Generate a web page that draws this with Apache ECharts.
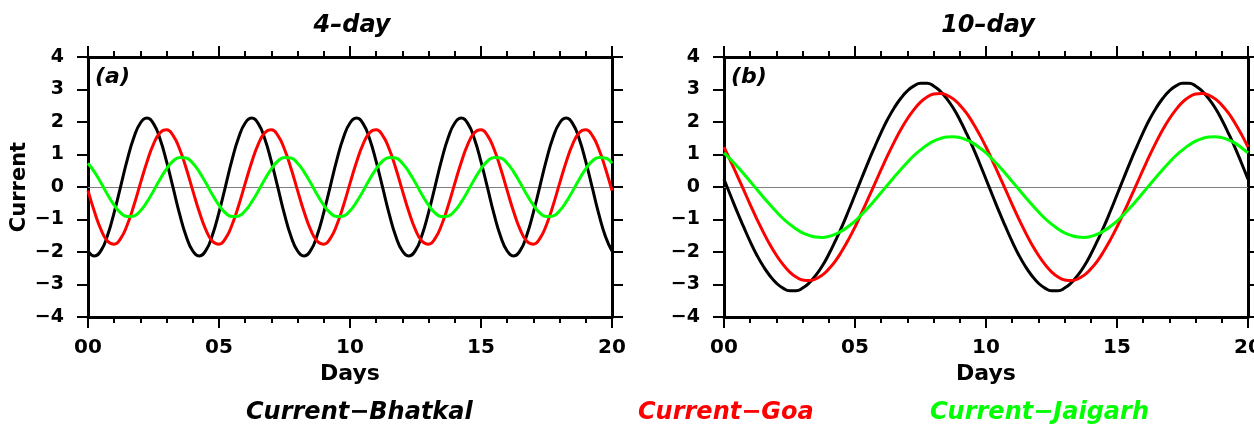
<!DOCTYPE html>
<html>
<head>
<meta charset="utf-8">
<script src="https://cdn.jsdelivr.net/npm/echarts/dist/echarts.min.js"></script>
<style>
html,body{margin:0;padding:0;background:#fff;}
#chart{width:1254px;height:434px;}
</style>
</head>
<body>
<div id="chart"></div>
<script>
// ---- data ----
const panelTitles = ['4–day', '10–day'];
const panelLabels = ['(a)', '(b)'];
const seriesNames = ['Current−Bhatkal', 'Current−Goa', 'Current−Jaigarh'];
const seriesColors = ['#000000', '#ff0000', '#00ff00'];
const xTickLabels = ['00', '05', '10', '15', '20'];
const yTicks = [-4, -3, -2, -1, 0, 1, 2, 3, 4];

// sample days (both panels)
const days = [0,0.25,0.5,0.75,1,1.25,1.5,1.75,2,2.25,2.5,2.75,3,3.25,3.5,3.75,4,4.25,4.5,4.75,5,5.25,5.5,5.75,6,6.25,6.5,6.75,7,7.25,7.5,7.75,8,8.25,8.5,8.75,9,9.25,9.5,9.75,10,10.25,10.5,10.75,11,11.25,11.5,11.75,12,12.25,12.5,12.75,13,13.25,13.5,13.75,14,14.25,14.5,14.75,15,15.25,15.5,15.75,16,16.25,16.5,16.75,17,17.25,17.5,17.75,18,18.25,18.5,18.75,19,19.25,19.5,19.75,20];

// panel (a): 4-day
const bhatkalA = [-1.97,-2.12,-1.95,-1.48,-0.78,0.03,0.84,1.52,1.97,2.12,1.95,1.48,0.78,-0.03,-0.84,-1.52,
  -1.97,-2.12,-1.95,-1.48,-0.78,0.03,0.84,1.52,1.97,2.12,1.95,1.48,0.78,-0.03,-0.84,-1.52,
  -1.97,-2.12,-1.95,-1.48,-0.78,0.03,0.84,1.52,1.97,2.12,1.95,1.48,0.78,-0.03,-0.84,-1.52,
  -1.97,-2.12,-1.95,-1.48,-0.78,0.03,0.84,1.52,1.97,2.12,1.95,1.48,0.78,-0.03,-0.84,-1.52,
  -1.97,-2.12,-1.95,-1.48,-0.78,0.03,0.84,1.52,1.97,2.12,1.95,1.48,0.78,-0.03,-0.84,-1.52,
  -1.97];
const goaA = [-0.11,-0.77,-1.32,-1.67,-1.76,-1.58,-1.16,-0.57,0.11,0.77,1.32,1.67,1.76,1.58,1.16,0.57,
  -0.11,-0.77,-1.32,-1.67,-1.76,-1.58,-1.16,-0.57,0.11,0.77,1.32,1.67,1.76,1.58,1.16,0.57,
  -0.11,-0.77,-1.32,-1.67,-1.76,-1.58,-1.16,-0.57,0.11,0.77,1.32,1.67,1.76,1.58,1.16,0.57,
  -0.11,-0.77,-1.32,-1.67,-1.76,-1.58,-1.16,-0.57,0.11,0.77,1.32,1.67,1.76,1.58,1.16,0.57,
  -0.11,-0.77,-1.32,-1.67,-1.76,-1.58,-1.16,-0.57,0.11,0.77,1.32,1.67,1.76,1.58,1.16,0.57,
  -0.11];
const jaigarhA = [0.73,0.46,0.12,-0.24,-0.56,-0.80,-0.91,-0.89,-0.73,-0.46,-0.12,0.24,0.56,0.80,0.91,0.89,
  0.73,0.46,0.12,-0.24,-0.56,-0.80,-0.91,-0.89,-0.73,-0.46,-0.12,0.24,0.56,0.80,0.91,0.89,
  0.73,0.46,0.12,-0.24,-0.56,-0.80,-0.91,-0.89,-0.73,-0.46,-0.12,0.24,0.56,0.80,0.91,0.89,
  0.73,0.46,0.12,-0.24,-0.56,-0.80,-0.91,-0.89,-0.73,-0.46,-0.12,0.24,0.56,0.80,0.91,0.89,
  0.73,0.46,0.12,-0.24,-0.56,-0.80,-0.91,-0.89,-0.73,-0.46,-0.12,0.24,0.56,0.80,0.91,0.89,
  0.73];

// panel (b): 10-day
const bhatkalB = [0.24,-0.26,-0.76,-1.23,-1.68,-2.09,-2.44,-2.73,-2.96,-3.11,-3.19,-3.19,-3.11,-2.95,-2.72,-2.43,-2.07,-1.66,-1.22,-0.74,
  -0.24,0.26,0.76,1.23,1.68,2.09,2.44,2.73,2.96,3.11,3.19,3.19,3.11,2.95,2.72,2.43,2.07,1.66,1.22,0.74,
  0.24,-0.26,-0.76,-1.23,-1.68,-2.09,-2.44,-2.73,-2.96,-3.11,-3.19,-3.19,-3.11,-2.95,-2.72,-2.43,-2.07,-1.66,-1.22,-0.74,
  -0.24,0.26,0.76,1.23,1.68,2.09,2.44,2.73,2.96,3.11,3.19,3.19,3.11,2.95,2.72,2.43,2.07,1.66,1.22,0.74,
  0.24];
const goaB = [1.23,0.80,0.36,-0.09,-0.54,-0.98,-1.39,-1.77,-2.10,-2.38,-2.61,-2.77,-2.86,-2.88,-2.83,-2.71,-2.52,-2.28,-1.97,-1.62,
  -1.23,-0.80,-0.36,0.09,0.54,0.98,1.39,1.77,2.10,2.38,2.61,2.77,2.86,2.88,2.83,2.71,2.52,2.28,1.97,1.62,
  1.23,0.80,0.36,-0.09,-0.54,-0.98,-1.39,-1.77,-2.10,-2.38,-2.61,-2.77,-2.86,-2.88,-2.83,-2.71,-2.52,-2.28,-1.97,-1.62,
  -1.23,-0.80,-0.36,0.09,0.54,0.98,1.39,1.77,2.10,2.38,2.61,2.77,2.86,2.88,2.83,2.71,2.52,2.28,1.97,1.62,
  1.23];
const jaigarhB = [1.05,0.85,0.64,0.41,0.17,-0.07,-0.31,-0.54,-0.76,-0.97,-1.14,-1.29,-1.41,-1.49,-1.54,-1.55,-1.52,-1.45,-1.35,-1.21,
  -1.05,-0.85,-0.64,-0.41,-0.17,0.07,0.31,0.54,0.76,0.97,1.14,1.29,1.41,1.49,1.54,1.55,1.52,1.45,1.35,1.21,
  1.05,0.85,0.64,0.41,0.17,-0.07,-0.31,-0.54,-0.76,-0.97,-1.14,-1.29,-1.41,-1.49,-1.54,-1.55,-1.52,-1.45,-1.35,-1.21,
  -1.05,-0.85,-0.64,-0.41,-0.17,0.07,0.31,0.54,0.76,0.97,1.14,1.29,1.41,1.49,1.54,1.55,1.52,1.45,1.35,1.21,
  1.05];

// ---- chart ----
const FONT = '"DejaVu Sans", "Liberation Sans", Arial, sans-serif';
const chart = echarts.init(document.getElementById('chart'), null, {renderer: 'canvas'});

const grids = [
  {left: 88, top: 57, width: 524, height: 260, containLabel: false, outerBoundsMode: 'none'},
  {left: 724, top: 57, width: 524, height: 260, containLabel: false, outerBoundsMode: 'none'}
];

const lineAxis = {show: true, onZero: false, lineStyle: {color: '#000', width: 3}};
const tickStyle = {color: '#000', width: 2};

function xAxes(gi, pos) {
  const ax = {
    gridIndex: gi, type: 'value', min: 0, max: 20, interval: 5, position: pos,
    axisLine: lineAxis,
    axisTick: {show: true, inside: false, length: 11, lineStyle: tickStyle},
    minorTick: {show: true, splitNumber: 5, length: 6, lineStyle: tickStyle},
    splitLine: {show: false}, minorSplitLine: {show: false},
    axisLabel: {show: false}
  };
  if (pos === 'bottom') {
    ax.axisLabel = {
      show: true, margin: 21, color: '#000', fontFamily: FONT, fontWeight: 'bold', fontSize: 20,
      hideOverlap: false, showMinLabel: true, showMaxLabel: true,
      formatter: v => xTickLabels[Math.round(v / 5)]
    };
    ax.name = 'Days';
    ax.nameLocation = 'middle';
    ax.nameGap = 46;
    ax.nameTextStyle = {color: '#000', fontFamily: FONT, fontWeight: 'bold', fontSize: 22};
  }
  return ax;
}
function yAxes(gi, pos) {
  const ax = {
    gridIndex: gi, type: 'value', min: yTicks[0], max: yTicks[yTicks.length - 1], interval: 1, position: pos,
    axisLine: lineAxis,
    axisTick: {show: true, inside: false, length: 11, lineStyle: tickStyle},
    splitLine: {show: false},
    axisLabel: {show: false}
  };
  if (pos === 'left') {
    ax.axisLabel = {
      show: true, margin: 24, color: '#000', fontFamily: FONT, fontWeight: 'bold', fontSize: 19,
      formatter: v => String(v).replace('-', '−')
    };
    if (gi === 0) {
      ax.name = 'Current';
      ax.nameLocation = 'middle';
      ax.nameGap = 58;
      ax.nameTextStyle = {color: '#000', fontFamily: FONT, fontWeight: 'bold', fontSize: 21};
    }
  }
  return ax;
}

const panelData = [
  {vals: [bhatkalA, goaA, jaigarhA]},
  {vals: [bhatkalB, goaB, jaigarhB]}
];

const series = [];
panelData.forEach((p, gi) => {
  p.vals.forEach((vals, si) => {
    const s = {
      name: seriesNames[si],
      type: 'line',
      xAxisIndex: gi * 2,
      yAxisIndex: gi * 2,
      data: days.map((d, i) => [d, vals[i]]),
      smooth: 0.5,
      showSymbol: false,
      symbol: 'none',
      lineStyle: {color: seriesColors[si], width: 3},
      itemStyle: {color: seriesColors[si]},
      emphasis: {disabled: true},
      z: 3 + si
    };
    if (si === 0) {
      s.markLine = {
        silent: true, symbol: 'none', label: {show: false},
        lineStyle: {color: '#808080', width: 1, type: 'solid'},
        data: [{yAxis: 0}], z: 1
      };
    }
    series.push(s);
  });
});

const titleX = [352, 988];
const labelX = [95, 731];
const legendX = [246, 638, 930];
const graphic = [];
panelTitles.forEach((t, i) => {
  graphic.push({type: 'text', x: titleX[i], y: 26, style: {
    text: t, fill: '#000', font: 'italic bold 24px ' + FONT, textAlign: 'center', textVerticalAlign: 'middle'}});
  graphic.push({type: 'text', x: labelX[i], y: 77, style: {
    text: panelLabels[i], fill: '#000', font: 'italic bold 22px ' + FONT, textAlign: 'left', textVerticalAlign: 'middle'}});
});
seriesNames.forEach((n, i) => {
  graphic.push({type: 'text', x: legendX[i], y: 413, style: {
    text: n, fill: seriesColors[i], font: 'italic bold 24px ' + FONT, textAlign: 'left', textVerticalAlign: 'middle'}});
});

chart.setOption({
  backgroundColor: '#ffffff',
  animation: false,
  grid: grids,
  xAxis: [xAxes(0, 'bottom'), xAxes(0, 'top'), xAxes(1, 'bottom'), xAxes(1, 'top')],
  yAxis: [yAxes(0, 'left'), yAxes(0, 'right'), yAxes(1, 'left'), yAxes(1, 'right')],
  series: series,
  graphic: graphic
});
</script>
</body>
</html>
